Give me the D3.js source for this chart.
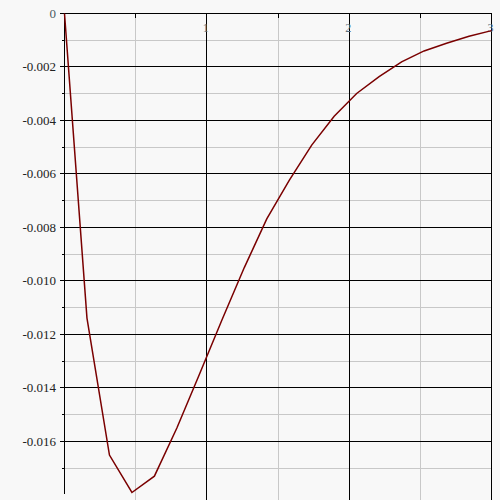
<!DOCTYPE html>
<html>
<head>
<meta charset="utf-8">
<script src="https://cdn.jsdelivr.net/npm/d3@7"></script>
<style>
  html, body { margin: 0; padding: 0; background: #f8f8f8; }
  svg { display: block; }
  text { font-family: "Liberation Serif", "DejaVu Serif", serif; }
</style>
</head>
<body>
<div id="chart"></div>
<script>
// x sample positions (20 samples across [0, 3])
const xValues = [0, 0.1579, 0.3158, 0.4737, 0.6316, 0.7895, 0.9474, 1.1053, 1.2632, 1.4211,
                 1.5789, 1.7368, 1.8947, 2.0526, 2.2105, 2.3684, 2.5263, 2.6842, 2.8421, 3.0];
const yValues = [0, -0.01139, -0.01651, -0.01791, -0.01730, -0.01550, -0.01350, -0.01147, -0.00950, -0.00768,
                 -0.00624, -0.00492, -0.00384, -0.00299, -0.00236, -0.00181, -0.00140, -0.00111, -0.00085, -0.00064];
const xTickLabels = ["1", "2", "3"];
const xMajorTicks = [1, 2, 3];
const xMinorTicks = [0.5, 1.5, 2.5];
const yTickLabels = ["0", "-0.002", "-0.004", "-0.006", "-0.008", "-0.010", "-0.012", "-0.014", "-0.016"];
const yMajorTicks = [0, -0.002, -0.004, -0.006, -0.008, -0.010, -0.012, -0.014, -0.016];
const yMinorTicks = [-0.001, -0.003, -0.005, -0.007, -0.009, -0.011, -0.013, -0.015, -0.017];

const W = 500, H = 500;
const svg = d3.select("#chart").append("svg").attr("width", W).attr("height", H);
svg.append("rect").attr("width", W).attr("height", H).attr("fill", "#f8f8f8");

const x = d3.scaleLinear().domain([0, 3]).range([64.5, 491.5]);
const y = d3.scaleLinear().domain([d3.min(yValues), 0]).range([492.5, 13.5]);

const g = svg.append("g").attr("shape-rendering", "crispEdges");
const r = v => Math.round(v - 0.5) + 0.5;

// minor grid (gray)
g.selectAll(".xminor").data(xMinorTicks).join("line")
  .attr("x1", d => r(x(d))).attr("x2", d => r(x(d)))
  .attr("y1", y(0)).attr("y2", H)
  .attr("stroke", "#c8c8c8").attr("stroke-width", 1);
g.selectAll(".yminor").data(yMinorTicks).join("line")
  .attr("x1", x(0)).attr("x2", x(3))
  .attr("y1", d => r(y(d))).attr("y2", d => r(y(d)))
  .attr("stroke", "#c8c8c8").attr("stroke-width", 1);

// major grid (black)
g.selectAll(".xmajor").data(xMajorTicks).join("line")
  .attr("x1", d => r(x(d))).attr("x2", d => r(x(d)))
  .attr("y1", y(0)).attr("y2", H)
  .attr("stroke", "#000").attr("stroke-width", 1);
g.selectAll(".ymajor").data(yMajorTicks).join("line")
  .attr("x1", x(0) - 5).attr("x2", x(3))
  .attr("y1", d => r(y(d))).attr("y2", d => r(y(d)))
  .attr("stroke", "#000").attr("stroke-width", 1);

// minor ticks
g.selectAll(".yminortick").data(yMinorTicks).join("line")
  .attr("x1", x(0) - 3).attr("x2", x(0))
  .attr("y1", d => r(y(d))).attr("y2", d => r(y(d)))
  .attr("stroke", "#000");
g.selectAll(".xminortick").data(xMinorTicks).join("line")
  .attr("x1", d => r(x(d))).attr("x2", d => r(x(d)))
  .attr("y1", y(0)).attr("y2", y(0) + 4)
  .attr("stroke", "#000");

// y axis line
g.append("line")
  .attr("x1", r(x(0))).attr("x2", r(x(0)))
  .attr("y1", y(0)).attr("y2", y(d3.min(yValues)) + 1)
  .attr("stroke", "#000");

// labels
svg.selectAll(".ylab").data(yMajorTicks).join("text")
  .attr("x", 56).attr("y", d => y(d) + 4.5)
  .attr("text-anchor", "end")
  .attr("font-size", 13)
  .attr("fill", (d, i) => i === 0 ? "#4a5a60" : "#222")
  .text((d, i) => yTickLabels[i]);

svg.selectAll(".xlab").data(xMajorTicks).join("text")
  .attr("x", d => x(d) - 1).attr("y", 32)
  .attr("text-anchor", "middle")
  .attr("font-size", 12)
  .attr("fill", "#5a7080")
  .text((d, i) => xTickLabels[i]);

// curve
const pts = xValues.map((v, i) => [v, yValues[i]]);
svg.append("path")
  .datum(pts)
  .attr("d", d3.line().x(d => x(d[0])).y(d => y(d[1])))
  .attr("fill", "none")
  .attr("stroke", "#7a0000")
  .attr("stroke-width", 1.5);
</script>
</body>
</html>
